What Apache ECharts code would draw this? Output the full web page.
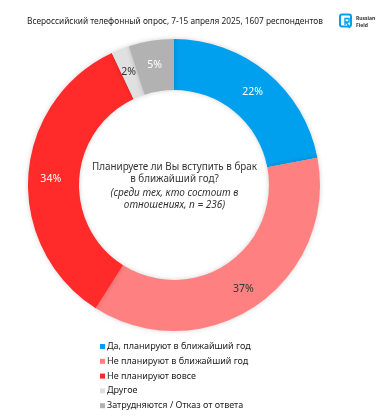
<!DOCTYPE html>
<html>
<head>
<meta charset="utf-8">
<style>
html, body {margin:0; padding:0; background:#fff;}
#chart {width:382px; height:418px;}
</style>
<script src="https://cdn.jsdelivr.net/npm/echarts@6/dist/echarts.min.js"></script>
</head>
<body>
<div id="chart"></div>
<script>
var categories = ['Да, планируют в ближайший год', 'Не планируют в ближайший год', 'Не планируют вовсе', 'Другое', 'Затрудняются / Отказ от ответа'];
var values = [22, 37, 34, 2, 5];
var colors = ['#00a0ee', '#ff8080', '#ff2a2a', '#e0e0e0', '#b2b2b2'];
var labelColors = ['#fff', '#333', '#fff', '#333', '#fff'];
var titleText = 'Всероссийский телефонный опрос, 7-15 апреля 2025, 1607 респондентов';
var questionText = 'Планируете ли Вы вступить в брак\nв ближайший год?';
var noteText = '(среди тех, кто состоит в\nотношениях, n = 236)';
var font = '"Noto Sans", sans-serif';

var pieData = [];
for (var ind=0; ind<categories.length; ind++){
	pieData.push({
		name: categories[ind],
		value: values[ind],
		itemStyle: {color: colors[ind]},
		label: {color: labelColors[ind]}
	});
}

var chart = echarts.init(document.getElementById('chart'), null, {renderer: 'canvas'});
var option = {
	animation: false,
	backgroundColor: '#fff',
	title: [
		{text: titleText, left: 27, top: 18, padding: 0, textStyle: {fontFamily: font, fontSize: 8.3, fontWeight: 'normal', color: '#222'}},
		{text: questionText, left: 174.5, top: 161, padding: 0, textAlign: 'center', textStyle: {fontFamily: font, fontSize: 9.85, fontWeight: 'normal', color: '#333', lineHeight: 12, align: 'center'}},
		{text: noteText, left: 174.5, top: 187.5, padding: 0, textAlign: 'center', textStyle: {fontFamily: font, fontSize: 10, fontWeight: 'normal', fontStyle: 'italic', color: '#333', lineHeight: 12, align: 'center'}}
	],
	legend: {
		orient: 'vertical',
		left: 100,
		top: 341,
		height: 75,
		padding: 0,
		itemWidth: 5,
		itemHeight: 5,
		itemGap: 3.8,
		icon: 'rect',
		selectedMode: false,
		textStyle: {fontFamily: font, fontSize: 9, color: '#222', padding: [0, 0, 0, -3], lineHeight: 11},
		data: categories
	},
	series: [{
		type: 'pie',
		center: [174, 185],
		radius: [95, 146],
		startAngle: 90,
		clockwise: true,
		silent: true,
		label: {
			position: 'inside',
			formatter: '{c}%',
			fontFamily: font,
			fontSize: 10.5,
			offset: [0, 2]
		},
		labelLine: {show: false},
		itemStyle: {shadowBlur: 5, shadowColor: 'rgba(0,0,0,0.18)'},
		data: pieData
	}],
	graphic: [
		// logo
		{type: 'rect', shape: {x: 340, y: 14.5, width: 11, height: 12, r: 2}, style: {fill: 'none', stroke: '#00a0ee', lineWidth: 2}},
		{type: 'polyline', shape: {points: [[345, 25], [345, 18.5], [349, 18.5], [349, 22], [346, 22], [350, 28]]}, style: {fill: 'none', stroke: '#00a0ee', lineWidth: 1.4}},
		{type: 'text', x: 356, y: 15.5, style: {text: 'Russian\nField', fontFamily: font, fontSize: 5, fontWeight: 'bold', fill: '#333', lineHeight: 7}}
	]
};
chart.setOption(option);
</script>
</body>
</html>
